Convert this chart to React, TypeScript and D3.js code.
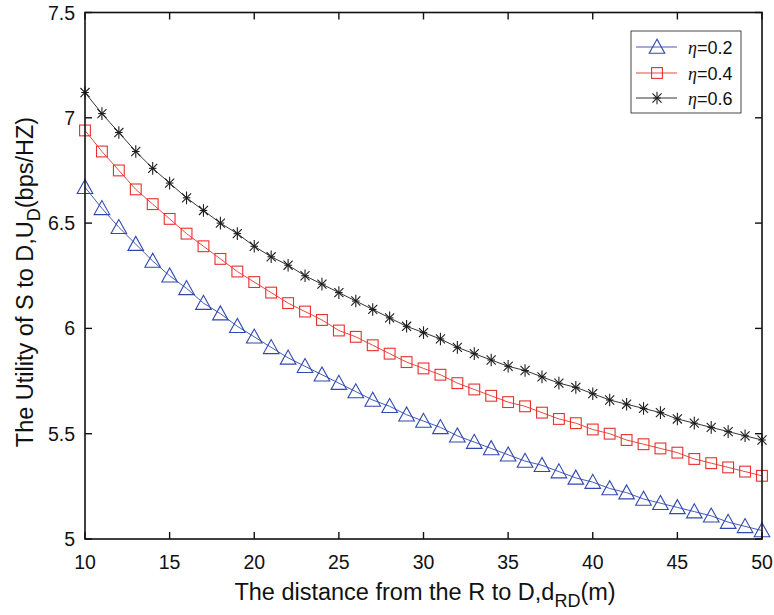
import React from "react";
import * as d3 from "d3";

const distances = d3.range(10, 51);
const eta02 = [6.67, 6.57, 6.48, 6.40, 6.32, 6.25, 6.19, 6.12, 6.07, 6.01, 5.96, 5.91, 5.86, 5.82, 5.78, 5.74, 5.70, 5.66, 5.63, 5.59, 5.56, 5.53, 5.49, 5.46, 5.43, 5.40, 5.37, 5.35, 5.32, 5.29, 5.27, 5.24, 5.22, 5.19, 5.17, 5.15, 5.13, 5.11, 5.08, 5.06, 5.04];
const eta04 = [6.94, 6.84, 6.75, 6.66, 6.59, 6.52, 6.45, 6.39, 6.33, 6.27, 6.22, 6.17, 6.12, 6.08, 6.04, 5.99, 5.96, 5.92, 5.88, 5.84, 5.81, 5.78, 5.74, 5.71, 5.68, 5.65, 5.63, 5.60, 5.57, 5.55, 5.52, 5.50, 5.47, 5.45, 5.43, 5.41, 5.38, 5.36, 5.34, 5.32, 5.30];
const eta06 = [7.12, 7.02, 6.93, 6.84, 6.76, 6.69, 6.62, 6.56, 6.50, 6.45, 6.39, 6.34, 6.30, 6.25, 6.21, 6.17, 6.13, 6.09, 6.05, 6.01, 5.98, 5.95, 5.91, 5.88, 5.85, 5.82, 5.80, 5.77, 5.74, 5.72, 5.69, 5.66, 5.64, 5.62, 5.60, 5.57, 5.55, 5.53, 5.51, 5.49, 5.47];
const xTicks = [10, 15, 20, 25, 30, 35, 40, 45, 50];
const yTicks = [5, 5.5, 6, 6.5, 7, 7.5];
const seriesNames = ["0.2", "0.4", "0.6"];

const W = 774, H = 615;
const L = 85, R = 762, T = 12.5, B = 539;
const font = "'Liberation Sans', Arial, Helvetica, sans-serif";

type MarkerKind = "tri" | "sq" | "star";

function Marker({ kind, x, y, color }: { kind: MarkerKind; x: number; y: number; color: string }) {
  if (kind === "tri") {
    const s = 7.8;
    const pts = `${x},${y - s} ${x - s},${y + s * 0.8} ${x + s},${y + s * 0.8}`;
    return <polygon points={pts} fill="none" stroke={color} strokeWidth={1.1} />;
  }
  if (kind === "sq") {
    const s = 5.4;
    return <rect x={x - s} y={y - s} width={2 * s} height={2 * s} fill="none" stroke={color} strokeWidth={1.1} />;
  }
  const s = 6.3;
  const d = s * 0.72;
  return (
    <g stroke={color} strokeWidth={1.1}>
      <line x1={x} y1={y - s} x2={x} y2={y + s} />
      <line x1={x - d} y1={y - d} x2={x + d} y2={y + d} />
      <line x1={x - d} y1={y + d} x2={x + d} y2={y - d} />
      <line x1={x - s * 0.6} y1={y} x2={x + s * 0.6} y2={y} />
    </g>
  );
}

export default function App() {
  const x = d3.scaleLinear().domain([10, 50]).range([L, R]);
  const y = d3.scaleLinear().domain([5, 7.5]).range([B, T]);
  const line = d3.line<number>().x((_, i) => x(distances[i])).y((v) => y(v));

  const series: { vals: number[]; color: string; kind: MarkerKind }[] = [
    { vals: eta02, color: "#3048b0", kind: "tri" },
    { vals: eta04, color: "#e8312c", kind: "sq" },
    { vals: eta06, color: "#1e1e1e", kind: "star" },
  ];

  const tl = 7;
  const legY = [47, 73, 98];

  return (
    <svg width={W} height={H} style={{ position: "absolute", left: 0, top: 0, background: "#fff" }}>
      <rect x={0} y={0} width={W} height={H} fill="#fff" />
      {series.map((s, si) => (
        <g key={si}>
          <path d={line(s.vals) || ""} fill="none" stroke={s.color} strokeWidth={0.9} />
          {s.vals.map((v, i) => (
            <Marker key={i} kind={s.kind} x={x(distances[i])} y={y(v)} color={s.color} />
          ))}
        </g>
      ))}
      <rect x={L} y={T} width={R - L} height={B - T} fill="none" stroke="#111" strokeWidth={1.6} />
      {xTicks.map((t) => (
        <g key={"x" + t}>
          <line x1={x(t)} x2={x(t)} y1={B} y2={B - tl} stroke="#111" strokeWidth={1.4} />
          <line x1={x(t)} x2={x(t)} y1={T} y2={T + tl} stroke="#111" strokeWidth={1.4} />
          <text x={x(t)} y={569} textAnchor="middle" fontFamily={font} fontSize={19.5} fill="#111">{t}</text>
        </g>
      ))}
      {yTicks.map((t) => (
        <g key={"y" + t}>
          <line x1={L} x2={L + tl} y1={y(t)} y2={y(t)} stroke="#111" strokeWidth={1.4} />
          <line x1={R} x2={R - tl} y1={y(t)} y2={y(t)} stroke="#111" strokeWidth={1.4} />
          <text x={75} y={y(t) + 7} textAnchor="end" fontFamily={font} fontSize={19.5} fill="#111">{t}</text>
        </g>
      ))}
      <text x={425} y={600} textAnchor="middle" fontFamily={font} fontSize={23.5} fill="#111">
        The distance from the R to D,d
        <tspan dy={7} fontSize={18}>RD</tspan>
        <tspan dy={-7}>(m)</tspan>
      </text>
      <text transform={`translate(33,282) rotate(-90)`} textAnchor="middle" fontFamily={font} fontSize={23.5} fill="#111">
        The Utility of S to D,U
        <tspan dy={7} fontSize={18}>D</tspan>
        <tspan dy={-7}>(bps/HZ)</tspan>
      </text>
      <rect x={631} y={31} width={110} height={82} fill="#fff" stroke="#333" strokeWidth={0.9} />
      {series.map((s, si) => (
        <g key={"l" + si}>
          <line x1={636} x2={677} y1={legY[si]} y2={legY[si]} stroke={s.color} strokeWidth={0.9} />
          <Marker kind={s.kind} x={657} y={legY[si]} color={s.color} />
          <text x={688} y={legY[si] + 6.5} fontFamily={font} fontSize={18} fill="#111">
            <tspan fontFamily="'Liberation Serif', 'Times New Roman', serif" fontStyle="italic">η</tspan>={seriesNames[si]}
          </text>
        </g>
      ))}
    </svg>
  );
}
